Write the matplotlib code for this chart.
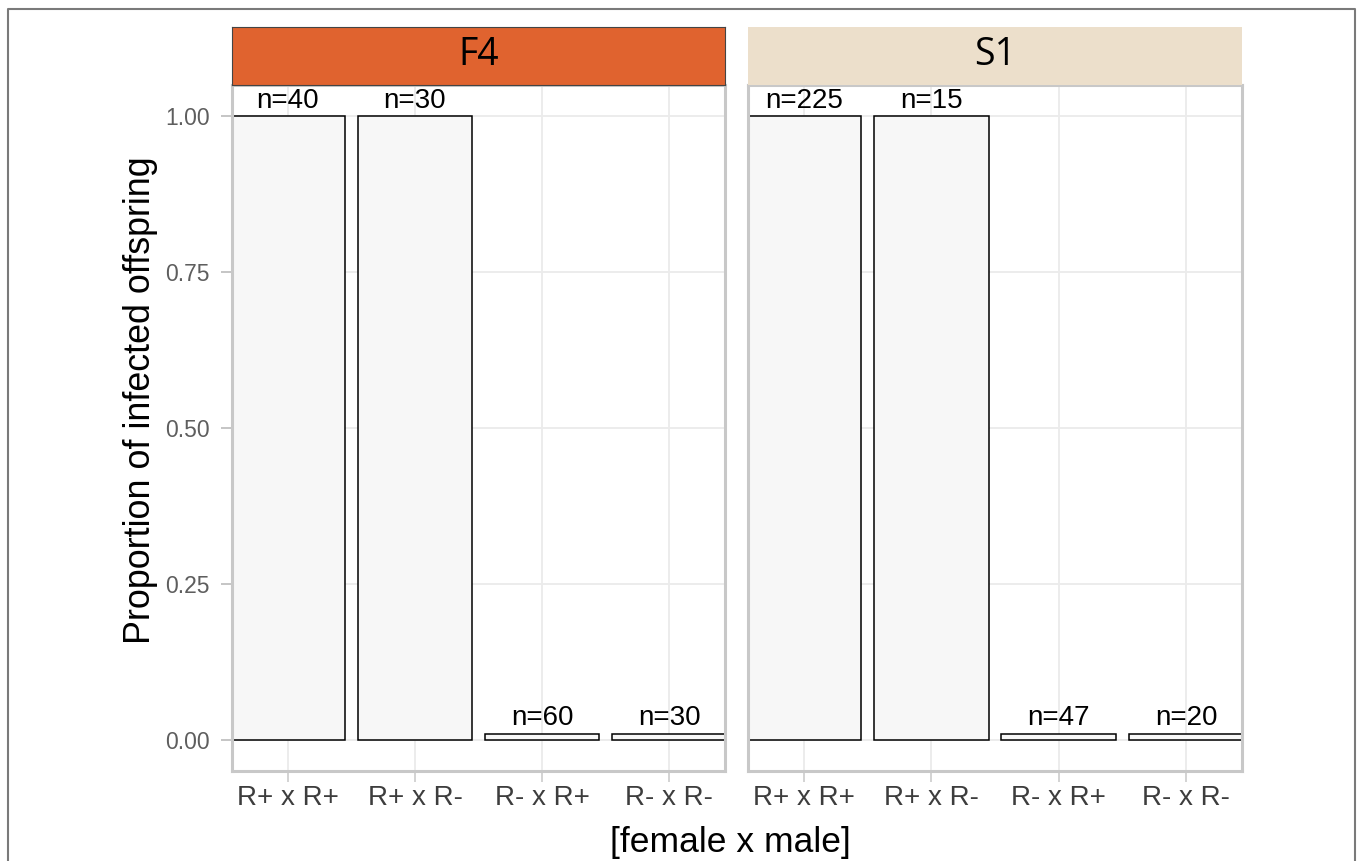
"""Proportion of infected offspring per cross, F4 vs S1 facets"""
import matplotlib
matplotlib.use('Agg')
import numpy as np
from matplotlib import pyplot as plt
from matplotlib.lines import Line2D

plt.rcParams['font.family'] = ['Liberation Sans', 'DejaVu Sans']

crosses = ['R+ x R+', 'R+ x R-', 'R- x R+', 'R- x R-']
panels = ['F4', 'S1']
prop_f4 = [1.0, 1.0, 0.01, 0.01]
prop_s1 = [1.0, 1.0, 0.01, 0.01]
n_f4 = [40, 30, 60, 30]
n_s1 = [225, 15, 47, 20]
strip_colors = ['#e0632f', '#ecdfcb']

W, H = 1357, 861
fig = plt.figure(figsize=(W / 100, H / 100), dpi=100)


def px_box(x0, y0, x1, y1):
    """pixel box (top-left origin) -> figure rect"""
    return [x0 / W, 1 - y1 / H, (x1 - x0) / W, (y1 - y0) / H]


panel_px = [(232, 85, 725, 771), (748, 85, 1242, 771)]
values = [prop_f4, prop_s1]
counts = [n_f4, n_s1]
x = np.arange(1, len(crosses) + 1)

for i, name in enumerate(panels):
    x0, y0, x1, y1 = panel_px[i]
    ax = fig.add_axes(px_box(x0, y0, x1, y1))
    ax.set_axisbelow(True)
    ax.bar(x, values[i], width=0.9, color='#f7f7f7', edgecolor='black',
           linewidth=1.1, zorder=2)
    for xi, v, n in zip(x, values[i], counts[i]):
        ax.text(xi, v + 0.004, 'n=%d' % n, ha='center', va='bottom',
                fontsize=20, color='black', zorder=3)
    ax.set_xlim(0.56, 4.44)
    ax.set_ylim(-0.05, 1.05)
    ax.set_xticks(x)
    ax.set_xticklabels(crosses, fontsize=20, color='#3d3d3d')
    ax.set_yticks([0, 0.25, 0.5, 0.75, 1.0])
    ax.grid(True, color='#ebebeb', linewidth=1.3)
    ax.tick_params(axis='x', length=8, width=1.3, color='#d0d0d0', pad=2)
    if i == 0:
        ax.set_yticklabels(['0.00', '0.25', '0.50', '0.75', '1.00'],
                           fontsize=16.5, color='#5e5e5e')
        ax.tick_params(axis='y', length=8, width=1.3, color='#c0c0c0', pad=8)
    else:
        ax.tick_params(axis='y', length=0, labelleft=False)
    for s in ax.spines.values():
        s.set_color('#c8c8c8')
        s.set_linewidth(2.2)

    # facet strip
    sx = fig.add_axes(px_box(x0, 27, x1, 85))
    sx.set_facecolor(strip_colors[i])
    sx.set_xticks([])
    sx.set_yticks([])
    for s in sx.spines.values():
        if i == 0:
            s.set_color('#444444')
            s.set_linewidth(0.8)
        else:
            s.set_visible(False)
    sx.text(0.5, 0.52, name, ha='center', va='center', fontsize=27,
            family='Open Sans', color='black', transform=sx.transAxes)

fig.text(730 / W, 1 - 852 / H, '[female x male]', ha='center', va='baseline',
         fontsize=25.5, color='black')
fig.text(140 / W, 1 - 400 / H, 'Proportion of infected offspring', ha='center',
         va='center', rotation=90, fontsize=25.8, color='black')

# outer frame (open at the bottom)
fig.add_artist(Line2D([8 / W, 8 / W, 1355 / W, 1355 / W],
                      [0, 1 - 9 / H, 1 - 9 / H, 0],
                      transform=fig.transFigure, color='#7a7a7a', linewidth=1.5))

fig.savefig('out.png', dpi=100)
